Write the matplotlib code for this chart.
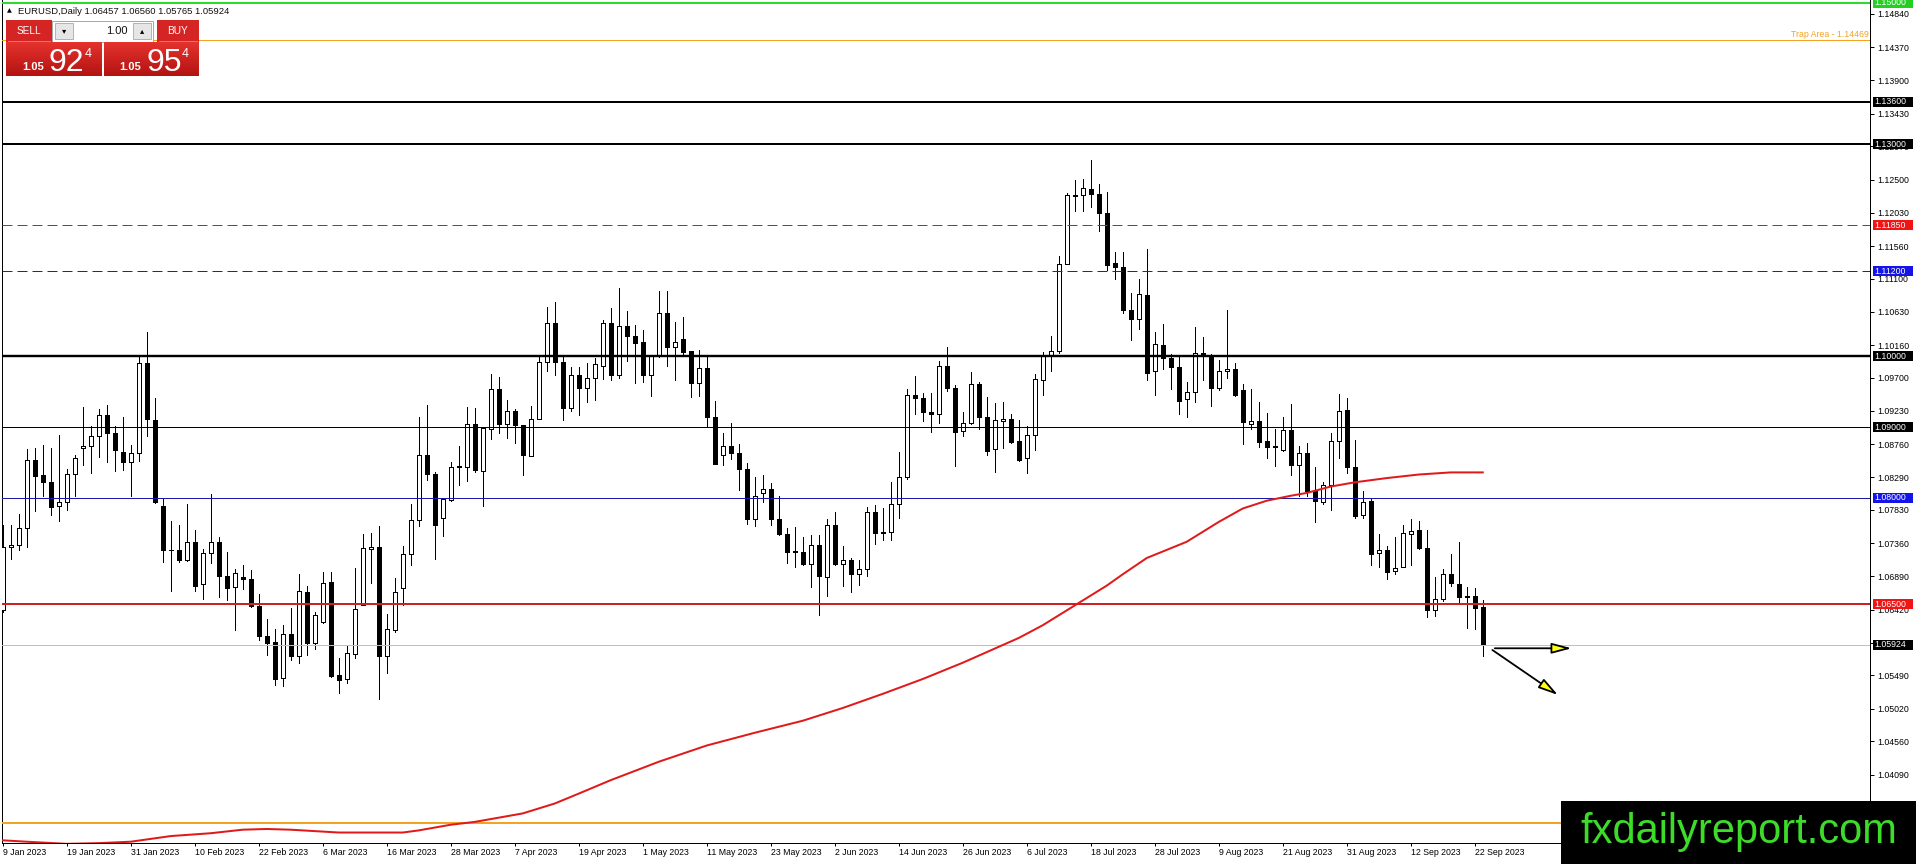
import numpy as np
import matplotlib
matplotlib.use('Agg')
import matplotlib.pyplot as plt
import matplotlib.transforms as mtransforms
from matplotlib.patches import Rectangle, FancyArrowPatch
from matplotlib.colors import LinearSegmentedColormap

plt.rcParams['font.family'] = ['Liberation Sans', 'DejaVu Sans']
plt.rcParams['lines.scale_dashes'] = False

# GLOBAL VARIABLES
FIG_W, FIG_H = 1916, 864  # output size [px]
DPI = 100
PX = 72.0 / DPI  # one pixel in points
PLOT_LEFT, PLOT_RIGHT, PLOT_BOTTOM = 2.0, 1870.0, 843.3  # chart window edges [px]
Y_MIN, Y_MAX = 1.031177, 1.150371  # price range of the window
X_MIN, X_MAX = -0.0875, 233.4  # bar range of the window

# EURUSD daily bars, 9 Jan 2023 .. 25 Sep 2023
opens = [
    1.0642, 1.0730, 1.0733, 1.0758, 1.0854, 1.0832, 1.0823, 1.0789, 1.0794, 1.0834,
    1.0870, 1.0873, 1.0887, 1.0917, 1.0892, 1.0865, 1.0851, 1.0864, 1.0990, 1.0910,
    1.0789, 1.0726, 1.0727, 1.0712, 1.0738, 1.0678, 1.0722, 1.0738, 1.0689, 1.0674,
    1.0688, 1.0685, 1.0647, 1.0605, 1.0596, 1.0546, 1.0608, 1.0576, 1.0667, 1.0595,
    1.0625, 1.0681, 1.0549, 1.0544, 1.0580, 1.0649, 1.0728, 1.0731, 1.0577, 1.0613,
    1.0672, 1.0721, 1.0769, 1.0860, 1.0834, 1.0771, 1.0797, 1.0844, 1.0844, 1.0905,
    1.0838, 1.0897, 1.0954, 1.0905, 1.0923, 1.0903, 1.0859, 1.0912, 1.0992, 1.1047,
    1.0992, 1.0927, 1.0973, 1.0955, 1.0970, 1.0986, 1.1047, 1.0973, 1.1043, 1.1029,
    1.1020, 1.0974, 1.1000, 1.1062, 1.1013, 1.1025, 1.1007, 1.0962, 1.0983, 1.0915,
    1.0860, 1.0874, 1.0863, 1.0841, 1.0770, 1.0807, 1.0813, 1.0770, 1.0749, 1.0724,
    1.0723, 1.0707, 1.0733, 1.0688, 1.0761, 1.0707, 1.0712, 1.0693, 1.0700, 1.0780,
    1.0750, 1.0752, 1.0792, 1.0830, 1.0945, 1.0941, 1.0922, 1.0918, 1.0986, 1.0956,
    1.0895, 1.0906, 1.0961, 1.0914, 1.0869, 1.0908, 1.0912, 1.0880, 1.0856, 1.0889,
    1.0966, 1.1001, 1.1008, 1.1131, 1.1228, 1.1228, 1.1237, 1.1230, 1.1203, 1.1132,
    1.1126, 1.1066, 1.1053, 1.1087, 1.0979, 1.1016, 1.0998, 1.0985, 1.0940, 1.0949,
    1.1005, 1.1000, 1.0956, 1.0980, 1.0982, 1.0953, 1.0905, 1.0908, 1.0880, 1.0872,
    1.0867, 1.0896, 1.0846, 1.0864, 1.0810, 1.0794, 1.0818, 1.0880, 1.0924, 1.0844,
    1.0776, 1.0796, 1.0722, 1.0726, 1.0696, 1.0702, 1.0749, 1.0755, 1.0729, 1.0642,
    1.0657, 1.0693, 1.0678, 1.0661, 1.0661, 1.06457]
highs = [
    1.0762, 1.0761, 1.0777, 1.0869, 1.0870, 1.0875, 1.0870, 1.0889, 1.0841, 1.0860,
    1.0928, 1.0901, 1.0926, 1.0931, 1.0901, 1.0915, 1.0875, 1.1000, 1.1035, 1.0941,
    1.0799, 1.0768, 1.0762, 1.0792, 1.0754, 1.0728, 1.0806, 1.0745, 1.0723, 1.0700,
    1.0705, 1.0698, 1.0664, 1.0629, 1.0615, 1.0620, 1.0645, 1.0692, 1.0675, 1.0639,
    1.0695, 1.0695, 1.0574, 1.0592, 1.0701, 1.0749, 1.0751, 1.0760, 1.0636, 1.0687,
    1.0732, 1.0791, 1.0915, 1.0931, 1.0836, 1.0800, 1.0851, 1.0874, 1.0929, 1.0927,
    1.0899, 1.0975, 1.0971, 1.0939, 1.0926, 1.0903, 1.0930, 1.0999, 1.1070, 1.1077,
    1.0999, 1.0985, 1.0985, 1.0990, 1.0998, 1.1051, 1.1069, 1.1097, 1.1064, 1.1044,
    1.1037, 1.1000, 1.1093, 1.1093, 1.1049, 1.1056, 1.1008, 1.1009, 1.1001, 1.0937,
    1.0892, 1.0906, 1.0876, 1.0849, 1.0830, 1.0833, 1.0821, 1.0802, 1.0758, 1.0759,
    1.0745, 1.0748, 1.0748, 1.0770, 1.0780, 1.0732, 1.0715, 1.0712, 1.0787, 1.0790,
    1.0785, 1.0823, 1.0865, 1.0954, 1.0972, 1.0948, 1.0948, 1.0993, 1.1013, 1.0959,
    1.0921, 1.0978, 1.0964, 1.0942, 1.0934, 1.0935, 1.0919, 1.0910, 1.0901, 1.0975,
    1.1006, 1.1029, 1.1142, 1.1231, 1.1249, 1.1251, 1.1277, 1.1243, 1.1233, 1.1147,
    1.1148, 1.1089, 1.1109, 1.1152, 1.1035, 1.1046, 1.1003, 1.1000, 1.0964, 1.1042,
    1.1027, 1.1004, 1.0995, 1.1065, 1.0990, 1.0961, 1.0954, 1.0935, 1.0920, 1.0897,
    1.0915, 1.0933, 1.0874, 1.0877, 1.0843, 1.0823, 1.0892, 1.0947, 1.0941, 1.0882,
    1.0810, 1.0800, 1.0749, 1.0732, 1.0745, 1.0761, 1.0770, 1.0767, 1.0754, 1.0688,
    1.0699, 1.0720, 1.0738, 1.0674, 1.0672, 1.06560]
lows = [
    1.0639, 1.0713, 1.0727, 1.0731, 1.0781, 1.0803, 1.0776, 1.0767, 1.0783, 1.0803,
    1.0847, 1.0835, 1.0858, 1.0851, 1.0838, 1.0839, 1.0803, 1.0852, 1.0887, 1.0793,
    1.0710, 1.0669, 1.0710, 1.0711, 1.0668, 1.0657, 1.0708, 1.0660, 1.0656, 1.0613,
    1.0671, 1.0646, 1.0599, 1.0578, 1.0536, 1.0534, 1.0571, 1.0566, 1.0578, 1.0587,
    1.0623, 1.0547, 1.0524, 1.0538, 1.0574, 1.0648, 1.0679, 1.0516, 1.0552, 1.0611,
    1.0649, 1.0705, 1.0760, 1.0825, 1.0713, 1.0746, 1.0795, 1.0818, 1.0824, 1.0837,
    1.0788, 1.0883, 1.0892, 1.0884, 1.0877, 1.0832, 1.0859, 1.0911, 1.0980, 1.0973,
    1.0910, 1.0923, 1.0917, 1.0935, 1.0939, 1.0968, 1.0966, 1.0970, 1.0993, 1.0963,
    1.0964, 1.0944, 1.0999, 1.0987, 1.0967, 1.1001, 1.0942, 1.0944, 1.0902, 1.0848,
    1.0847, 1.0855, 1.0811, 1.0763, 1.0760, 1.0794, 1.0761, 1.0748, 1.0708, 1.0702,
    1.0705, 1.0674, 1.0635, 1.0662, 1.0705, 1.0675, 1.0667, 1.0677, 1.0690, 1.0735,
    1.0740, 1.0740, 1.0772, 1.0826, 1.0919, 1.0908, 1.0893, 1.0906, 1.0951, 1.0845,
    1.0888, 1.0904, 1.0898, 1.0860, 1.0836, 1.0871, 1.0878, 1.0852, 1.0835, 1.0868,
    1.0945, 1.0979, 1.1005, 1.1130, 1.1206, 1.1206, 1.1211, 1.1177, 1.1122, 1.1109,
    1.1062, 1.1023, 1.1039, 1.0967, 1.0945, 1.0982, 1.0954, 1.0919, 1.0914, 1.0936,
    1.0966, 1.0930, 1.0952, 1.0970, 1.0944, 1.0876, 1.0897, 1.0872, 1.0856, 1.0845,
    1.0866, 1.0833, 1.0803, 1.0803, 1.0766, 1.0792, 1.0783, 1.0856, 1.0835, 1.0772,
    1.0772, 1.0705, 1.0703, 1.0686, 1.0693, 1.0702, 1.0705, 1.0728, 1.0632, 1.0633,
    1.0654, 1.0675, 1.0652, 1.0616, 1.0615, 1.05765]
closes = [
    1.0730, 1.0733, 1.0758, 1.0854, 1.0831, 1.0822, 1.0787, 1.0794, 1.0834, 1.0856,
    1.0873, 1.0887, 1.0917, 1.0892, 1.0868, 1.0851, 1.0864, 1.0990, 1.0911, 1.0794,
    1.0726, 1.0727, 1.0712, 1.0738, 1.0676, 1.0722, 1.0738, 1.0689, 1.0672, 1.0694,
    1.0685, 1.0647, 1.0605, 1.0595, 1.0544, 1.0608, 1.0576, 1.0668, 1.0595, 1.0634,
    1.0679, 1.0548, 1.0543, 1.0581, 1.0643, 1.0729, 1.0731, 1.0577, 1.0614, 1.0667,
    1.0721, 1.0769, 1.0860, 1.0834, 1.0761, 1.0798, 1.0844, 1.0845, 1.0905, 1.0839,
    1.0899, 1.0954, 1.0904, 1.0923, 1.0903, 1.0861, 1.0912, 1.0992, 1.1047, 1.0992,
    1.0927, 1.0973, 1.0955, 1.0969, 1.0989, 1.1047, 1.0973, 1.1043, 1.1029, 1.1019,
    1.0974, 1.1000, 1.1062, 1.1013, 1.1020, 1.1006, 1.0962, 1.0983, 1.0915, 1.0848,
    1.0874, 1.0863, 1.0841, 1.0770, 1.0803, 1.0812, 1.0770, 1.0749, 1.0724, 1.0725,
    1.0707, 1.0734, 1.0689, 1.0761, 1.0707, 1.0712, 1.0693, 1.0700, 1.0780, 1.0750,
    1.0752, 1.0792, 1.0830, 1.0945, 1.0941, 1.0922, 1.0918, 1.0986, 1.0956, 1.0893,
    1.0906, 1.0961, 1.0914, 1.0866, 1.0910, 1.0912, 1.0879, 1.0854, 1.0889, 1.0968,
    1.1001, 1.1008, 1.1131, 1.1228, 1.1226, 1.1238, 1.1229, 1.1202, 1.1129, 1.1126,
    1.1065, 1.1053, 1.1088, 1.0977, 1.1018, 1.0998, 1.0985, 1.0937, 1.0949, 1.1005,
    1.1000, 1.0956, 1.0980, 1.0982, 1.0946, 1.0907, 1.0908, 1.0879, 1.0872, 1.0873,
    1.0896, 1.0846, 1.0864, 1.0810, 1.0795, 1.0818, 1.0880, 1.0923, 1.0844, 1.0775,
    1.0794, 1.0721, 1.0726, 1.0695, 1.0701, 1.0750, 1.0753, 1.0729, 1.0642, 1.0657,
    1.0693, 1.0679, 1.0660, 1.0660, 1.0645, 1.05924]

# date labels, one every 8 bars
date_ticks = list(range(0, 185, 8))
date_labels = ['9 Jan 2023', '19 Jan 2023', '31 Jan 2023', '10 Feb 2023', '22 Feb 2023',
               '6 Mar 2023', '16 Mar 2023', '28 Mar 2023', '7 Apr 2023', '19 Apr 2023',
               '1 May 2023', '11 May 2023', '23 May 2023', '2 Jun 2023', '14 Jun 2023',
               '26 Jun 2023', '6 Jul 2023', '18 Jul 2023', '28 Jul 2023', '9 Aug 2023',
               '21 Aug 2023', '31 Aug 2023', '12 Sep 2023', '22 Sep 2023']

# price scale labels on the right
price_ticks = [1.14840, 1.14370, 1.13900, 1.13430, 1.12970, 1.12500, 1.12030, 1.11560,
               1.11100, 1.10630, 1.10160, 1.09700, 1.09230, 1.08760, 1.08290, 1.07830,
               1.07360, 1.06890, 1.06420, 1.05950, 1.05490, 1.05020, 1.04560, 1.04090]

# moving average (red curve), read at these bars
ma_bars = [0, 3, 8, 12, 16, 21, 26, 30, 33, 36, 39, 42, 50, 52, 56, 59, 65, 69, 72, 76,
           82, 88, 94, 100, 105, 110, 115, 120, 127, 130, 134, 138, 140, 143, 148, 152,
           155, 158, 161, 163, 166, 169, 173, 177, 181, 185]
ma_values = [1.0316, 1.0314, 1.0311, 1.0312, 1.0314, 1.0322, 1.0326, 1.0331, 1.0332, 1.0331,
             1.0329, 1.0327, 1.0327, 1.0330, 1.0338, 1.0342, 1.0354, 1.0368, 1.0382, 1.0401,
             1.0427, 1.0450, 1.0468, 1.0485, 1.0503, 1.0523, 1.0544, 1.0567, 1.0602, 1.0620,
             1.0648, 1.0676, 1.0692, 1.0715, 1.0738, 1.0766, 1.0785, 1.0796, 1.0803, 1.0807,
             1.0816, 1.0822, 1.0828, 1.0833, 1.0836, 1.0836]

# horizontal levels drawn on the chart
level_prices = [1.15000, 1.14469, 1.13600, 1.13000, 1.11850, 1.11200, 1.10000,
                1.09000, 1.08000, 1.06500, 1.05924, 1.0341]
level_tags = ['1.15000', None, '1.13600', '1.13000', '1.11850', '1.11200', '1.10000',
              '1.09000', '1.08000', '1.06500', '1.05924', None]

# styles for the levels: line colour, width [px], dashed, tag box colour
level_styles = [
    ('#2bdc2b', 2, False, '#22d022'),
    ('#f3a321', 1, False, None),
    ('black', 2, False, 'black'),
    ('black', 2, False, 'black'),
    ('#cc1f1f', 1, True, '#f01414'),
    ('#2020b0', 1, True, '#1414e8'),
    ('black', 2.4, False, 'black'),
    ('black', 1, False, 'black'),
    ('#1a1aa8', 1, False, '#1414e8'),
    ('#d02020', 2, False, '#f01414'),
    ('#c0c0c0', 1, False, 'black'),
    ('#f3a321', 2, False, None),
]

# drawn arrows (bar, price): from -> to
arrow_from = [(186.5, 1.05874), (186.2, 1.05850)]
arrow_to = [(196.1, 1.05874), (194.4, 1.05214)]

# quote panel
quote_header = 'EURUSD,Daily 1.06457 1.06560 1.05765 1.05924'
lot_size = '1.00'
sell_quote = ('1.05', '92', '4')
buy_quote = ('1.05', '95', '4')
watermark = 'fxdailyreport.com'


fig = plt.figure(figsize=(FIG_W / DPI, FIG_H / DPI), dpi=DPI)
fig.patch.set_facecolor('white')
ax = fig.add_axes([PLOT_LEFT / FIG_W, (FIG_H - PLOT_BOTTOM) / FIG_H,
                   (PLOT_RIGHT - PLOT_LEFT) / FIG_W, PLOT_BOTTOM / FIG_H])
ax.set_xlim(X_MIN, X_MAX)
ax.set_ylim(Y_MIN, Y_MAX)

px_per_price = PLOT_BOTTOM / (Y_MAX - Y_MIN)
ax_w_px = PLOT_RIGHT - PLOT_LEFT

# candles
idx = np.arange(len(opens))
o, h, l, c = (np.array(v) for v in (opens, highs, lows, closes))
up = c >= o
ax.vlines(idx, l, h, color='black', lw=PX, zorder=2, antialiased=False)
ax.bar(idx[up], (c - o)[up], bottom=o[up], width=0.55, facecolor='white',
       edgecolor='black', lw=PX, zorder=3, antialiased=False)
ax.bar(idx[~up], (o - c)[~up], bottom=c[~up], width=0.55, facecolor='black',
       edgecolor='black', lw=PX, zorder=3, antialiased=False)

# levels and their price tags
blend = mtransforms.blended_transform_factory(ax.transAxes, ax.transData)
for price, tag, (col, width, dashed, box) in zip(level_prices, level_tags, level_styles):
    ls = (0, (7.2, 3.6)) if dashed else '-'
    ax.axhline(price, color=col, lw=width * PX, ls=ls, zorder=4)
    if tag is None:
        continue
    half = 5.0 / px_per_price
    ax.add_patch(Rectangle((1 + 2.7 / ax_w_px, price - half), 40.5 / ax_w_px, 2 * half,
                           transform=blend, facecolor=box, edgecolor='none',
                           clip_on=False, zorder=7))
    ax.text(1 + 4.6 / ax_w_px, price, tag, transform=blend, ha='left', va='center',
            color='white', fontsize=6.3, clip_on=False, zorder=8)

ax.annotate('Trap Area - 1.14469', xy=(1.0, level_prices[1]), xycoords=blend,
            xytext=(-1, 1.2), textcoords='offset points', ha='right', va='bottom',
            color='#f3a321', fontsize=6.3, zorder=5)

# moving average
ax.plot(ma_bars, ma_values, color='#e01a1a', lw=2 * PX, zorder=5)

# arrows
for start, end in zip(arrow_from, arrow_to):
    arr = FancyArrowPatch(start, end, arrowstyle='-|>,head_length=12,head_width=3.2',
                          mutation_scale=1, facecolor='#ffff1a', edgecolor='black',
                          lw=1.3, shrinkA=0, shrinkB=0, zorder=9)
    ax.add_patch(arr)

# axes look
for side in ('left', 'bottom', 'right'):
    ax.spines[side].set_color('black')
    ax.spines[side].set_linewidth(PX)
ax.spines['top'].set_visible(False)

ax.set_xticks(date_ticks)
ax.set_xticklabels(date_labels)
for lbl in ax.get_xticklabels():
    lbl.set_horizontalalignment('left')
ax.tick_params(axis='x', direction='out', length=3 * PX, width=PX, pad=1.5,
               labelsize=6.3, colors='black')

ax.yaxis.tick_right()
ax.set_yticks(price_ticks)
ax.set_yticklabels(['%.5f' % v for v in price_ticks])
ax.tick_params(axis='y', direction='out', length=4 * PX, width=PX, pad=2.3,
               labelsize=6.3, colors='black')

# overlay in pixel coordinates for the terminal widgets
ui = fig.add_axes([0, 0, 1, 1], zorder=10)
ui.patch.set_alpha(0)
ui.axis('off')

ui.text(9.5, 11, '\u25b2', fontsize=4.5, ha='center', va='center', family='DejaVu Sans')
ui.text(18, 14.5, quote_header, fontsize=6.8, va='baseline', color='#111111')

red_grad = LinearSegmentedColormap.from_list('btn', ['#e5332d', '#b31212'])
grad = np.linspace(0, 1, 64).reshape(-1, 1)
# SELL / BUY buttons
ui.add_patch(Rectangle((6, 20), 46, 22, facecolor='#d42424', edgecolor='none'))
ui.add_patch(Rectangle((157, 20), 42, 22, facecolor='#d42424', edgecolor='none'))
ui.plot([8, 50], [41, 41], color='#e87070', lw=PX)
ui.plot([159, 197], [41, 41], color='#e87070', lw=PX)
ui.text(29, 31, 'SELL', color='white', fontsize=7.2, ha='center', va='center')
ui.text(178, 31, 'BUY', color='white', fontsize=7.3, ha='center', va='center')
# lot spinner
ui.add_patch(Rectangle((52.5, 20.5), 100.5, 21, facecolor='white', edgecolor='#a8a8a8', lw=PX))
for bx in (55, 133):
    ui.add_patch(Rectangle((bx, 23), 18.5, 16, facecolor='#e6e6e6', edgecolor='#b4b4b4', lw=PX))
ui.text(64.2, 31, '\u25be', fontsize=6, ha='center', va='center', family='DejaVu Sans')
ui.text(142.2, 31, '\u25b4', fontsize=6, ha='center', va='center', family='DejaVu Sans')
ui.text(128, 31, lot_size, fontsize=8, ha='right', va='center', color='#111111')
# quote boxes
for (x0, x1), (big, pips, frac), (sx, px_, fx) in zip(
        [(6, 102), (104, 199)], [sell_quote, buy_quote], [(22, 49, 85), (119, 147, 182)]):
    ui.imshow(grad, extent=(x0, x1, 76, 42), aspect='auto', cmap=red_grad,
              interpolation='bilinear', zorder=1)
    ui.text(sx, 70.5, big, color='white', fontsize=8, fontweight='bold', va='baseline')
    ui.text(px_, 71, pips, color='white', fontsize=23, va='baseline')
    ui.text(fx, 57, frac, color='white', fontsize=9, va='baseline')

# watermark
ui.add_patch(Rectangle((1561, 801), FIG_W - 1561, FIG_H - 801, facecolor='black',
                       edgecolor='none', zorder=3))
ui.text(1739, 843, watermark, color='#3ddc2a', fontsize=30, ha='center',
        va='baseline', zorder=4)

ui.set_xlim(0, FIG_W)
ui.set_ylim(FIG_H, 0)

fig.savefig('out.png', dpi=DPI)
